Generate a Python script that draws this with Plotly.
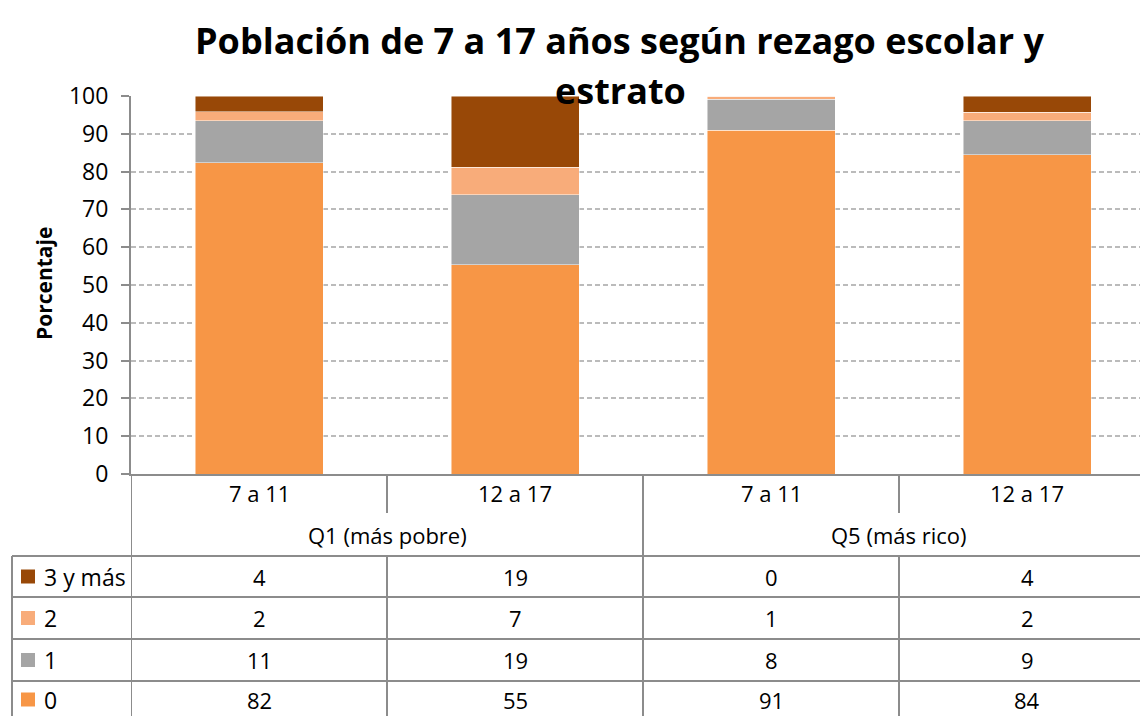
import plotly.graph_objects as go

# ---------------- data ----------------
groups = ["Q1 (más pobre)", "Q5 (más rico)"]
ages = ["7 a 11", "12 a 17", "7 a 11", "12 a 17"]
cat_group = [0, 0, 1, 1]

series_names = ["0", "1", "2", "3 y más"]          # stacking order (bottom -> top)
series_colors = ["#F79646", "#A5A5A5", "#F8AC7A", "#984807"]
vals_0 = [82.3, 55.3, 90.9, 84.4]
vals_1 = [11.2, 18.6, 8.2, 9.0]
vals_2 = [2.4, 7.2, 0.8, 2.3]
vals_3 = [4.1, 18.9, 0.1, 4.3]
series_vals = [vals_0, vals_1, vals_2, vals_3]

y_ticks = [0, 10, 20, 30, 40, 50, 60, 70, 80, 90, 100]

title_line1 = "Población de 7 a 17 años según rezago escolar y"
title_line2 = "estrato"
y_title = "Porcentaje"

# ---------------- layout geometry (pixels) ----------------
W, H = 1140, 716
L, R, T, B = 131, 1140, 96, 474
CAT_W = 256.0
FONT = "Open Sans"
TXT = "#000000"
LINE = "#8C8C8C"


def pxx(X):
    return (X - L) / (R - L)


def pyy(Y):
    return (B - Y) / (B - T)


xs = list(range(len(ages)))

fig = go.Figure()
for name, col, vals in zip(series_names, series_colors, series_vals):
    fig.add_trace(go.Bar(
        x=xs, y=vals, name=name, marker_color=col,
        marker_line=dict(color="rgba(255,255,255,0.6)", width=0.8),
        showlegend=False, hoverinfo="y+name",
    ))

fig.update_layout(
    width=W, height=H, barmode="stack", bargap=0.5,
    margin=dict(l=L, r=W - R, t=T, b=H - B, autoexpand=False),
    paper_bgcolor="white", plot_bgcolor="white",
    font=dict(family=FONT, color=TXT, size=22),
    showlegend=False,
)
fig.update_xaxes(
    range=[-0.5, -0.5 + (R - L) / CAT_W], showticklabels=False,
    showgrid=False, zeroline=False, showline=True, linecolor=LINE, linewidth=2,
    ticks="",
)
fig.update_yaxes(
    range=[0, 100], tickvals=y_ticks, ticks="outside", ticklen=8,
    tickcolor=LINE, tickwidth=2, showline=True, linecolor=LINE, linewidth=2,
    showgrid=True, gridcolor="#BBBBBB", gridwidth=2, griddash="5px,3px",
    zeroline=False, tickfont=dict(size=23, family=FONT, color=TXT),
    ticklabelstandoff=8, automargin=False,
)

shapes = []
anns = []

# titles
anns.append(dict(text="<b>%s</b>" % title_line1, xref="paper", yref="paper",
                 x=pxx(620), y=pyy(40), showarrow=False, xanchor="center",
                 yanchor="middle", font=dict(size=36, family=FONT, color=TXT)))
anns.append(dict(text="<b>%s</b>" % title_line2, xref="paper", yref="paper",
                 x=pxx(620), y=pyy(90), showarrow=False, xanchor="center",
                 yanchor="middle", font=dict(size=36, family=FONT, color=TXT)))
anns.append(dict(text="<b>%s</b>" % y_title, xref="paper", yref="paper",
                 x=pxx(44), y=pyy(284), showarrow=False, textangle=-90,
                 xanchor="center", yanchor="middle",
                 font=dict(size=21, family=FONT, color=TXT)))

# table geometry
row_lines = [556, 597, 639, 681, 718]
age_y, group_y = 493, 535
table_left = 12

# horizontal lines of table
for Y in row_lines[:-1]:
    shapes.append(dict(type="line", xref="paper", yref="paper",
                       x0=pxx(table_left), x1=1.0, y0=pyy(Y), y1=pyy(Y),
                       line=dict(color=LINE, width=2)))
# left table border
shapes.append(dict(type="line", xref="paper", yref="paper",
                   x0=pxx(table_left), x1=pxx(table_left),
                   y0=pyy(row_lines[0]), y1=pyy(H + 10),
                   line=dict(color=LINE, width=2)))
# axis line continuation on the left of categories
shapes.append(dict(type="line", xref="x", yref="paper", x0=-0.5, x1=-0.5,
                   y0=0, y1=pyy(H + 10), line=dict(color=LINE, width=2)))
# category boundaries
for i in range(len(ages) - 1):
    xb = i + 0.5
    if cat_group[i] != cat_group[i + 1]:
        shapes.append(dict(type="line", xref="x", yref="paper", x0=xb, x1=xb,
                           y0=0, y1=pyy(H + 10), line=dict(color=LINE, width=2)))
    else:
        shapes.append(dict(type="line", xref="x", yref="paper", x0=xb, x1=xb,
                           y0=0, y1=pyy(513), line=dict(color=LINE, width=2)))
        shapes.append(dict(type="line", xref="x", yref="paper", x0=xb, x1=xb,
                           y0=pyy(row_lines[0]), y1=pyy(H + 10),
                           line=dict(color=LINE, width=2)))
xb_end = len(ages) - 0.5
shapes.append(dict(type="line", xref="x", yref="paper", x0=xb_end, x1=xb_end,
                   y0=0, y1=pyy(H + 10), line=dict(color=LINE, width=2)))

# age labels
for i, a in enumerate(ages):
    anns.append(dict(text=a, xref="x", yref="paper", x=i, y=pyy(age_y),
                     showarrow=False, xanchor="center", yanchor="middle"))
# group labels
for g, gname in enumerate(groups):
    members = [i for i, cg in enumerate(cat_group) if cg == g]
    xc = sum(members) / len(members)
    anns.append(dict(text=gname, xref="x", yref="paper", x=xc, y=pyy(group_y),
                     showarrow=False, xanchor="center", yanchor="middle"))

# data table rows (top row = last series)
table_order = list(range(len(series_names)))[::-1]
for r, si in enumerate(table_order):
    yc = (row_lines[r] + row_lines[r + 1]) / 2
    shapes.append(dict(type="rect", xref="paper", yref="paper",
                       x0=pxx(21), x1=pxx(35), y0=pyy(yc - 7), y1=pyy(yc + 7),
                       fillcolor=series_colors[si], line=dict(width=0)))
    anns.append(dict(text=series_names[si], xref="paper", yref="paper",
                     x=pxx(42), y=pyy(yc), showarrow=False, xanchor="left",
                     yanchor="middle", font=dict(size=23)))
    for i, v in enumerate(series_vals[si]):
        anns.append(dict(text=str(round(v)), xref="x", yref="paper", x=i,
                         y=pyy(yc), showarrow=False, xanchor="center",
                         yanchor="middle"))

fig.update_layout(shapes=shapes, annotations=anns)
fig.write_html(
    "out.html",
    config={"displayModeBar": False},
    post_script="document.body.style.margin='0px';document.body.style.overflow='hidden';",
)
